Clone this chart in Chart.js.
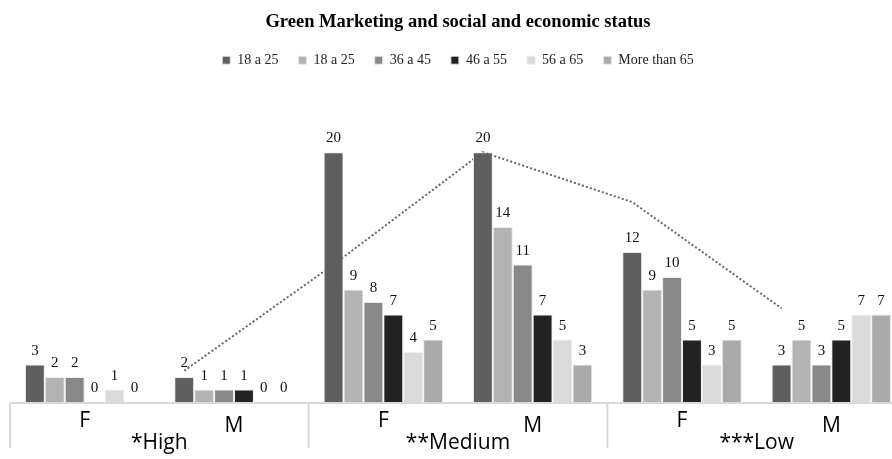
<!DOCTYPE html>
<html>
<head>
<meta charset="utf-8">
<script src="https://cdn.jsdelivr.net/npm/chart.js@4"></script>
<style>
  html, body { margin: 0; padding: 0; background: #fff; overflow: hidden; }
  #wrap { width: 918px; height: 459px; }
</style>
</head>
<body>
<div id="wrap"><canvas id="c" width="918" height="459"></canvas></div>
<script>
// Categories: gender within each socio-economic level
const genders = ['F', 'M', 'F', 'M', 'F', 'M'];
const levels = ['*High', '**Medium', '***Low'];

// Series labels (age brackets)
const seriesNames = ['18 a 25', '18 a 25', '36 a 45', '46 a 55', '56 a 65', 'More than 65'];

// Counts per age bracket, one value per category
const age1 = [3, 2, 20, 20, 12, 3];
const age2 = [2, 1, 9, 14, 9, 5];
const age3 = [2, 1, 8, 11, 10, 3];
const age4 = [0, 1, 7, 7, 5, 5];
const age5 = [1, 0, 4, 5, 3, 7];
const age6 = [0, 0, 5, 3, 5, 7];

// Two-period moving average trend of the first series (from category 2 on)
const movingAvg = [2.5, 11, 20, 16, 7.5];

const seriesColors = ['#5f5f5f', '#b3b3b3', '#888888', '#222222', '#dadada', '#aaaaaa'];
const allSeries = [age1, age2, age3, age4, age5, age6];

const serif = "'Liberation Serif', 'Times New Roman', serif";
const sans = "'Open Sans', 'Liberation Sans', sans-serif";

// Dotted moving-average line, drawn behind the bars
const trendPlugin = {
  id: 'trend',
  beforeDatasetsDraw(chart) {
    const meta = chart.getDatasetMeta(0);
    const y = chart.scales.y;
    const ctx = chart.ctx;
    ctx.save();
    ctx.strokeStyle = '#666666';
    ctx.lineWidth = 2;
    ctx.setLineDash([2, 2.2]);
    ctx.beginPath();
    movingAvg.forEach((v, k) => {
      const px = meta.data[k + 1].x;
      const py = y.getPixelForValue(v);
      if (k === 0) ctx.moveTo(px, py); else ctx.lineTo(px, py);
    });
    ctx.stroke();
    ctx.restore();
  }
};

// Value labels above every bar
const valueLabels = {
  id: 'valueLabels',
  afterDatasetsDraw(chart) {
    const ctx = chart.ctx;
    ctx.save();
    ctx.font = '15px ' + serif;
    ctx.fillStyle = '#111';
    ctx.textAlign = 'center';
    ctx.textBaseline = 'alphabetic';
    chart.data.datasets.forEach((ds, di) => {
      const meta = chart.getDatasetMeta(di);
      meta.data.forEach((bar, i) => {
        ctx.fillText(String(ds.data[i]), bar.x, bar.y - 10);
      });
    });
    ctx.restore();
  }
};

// Two-level category axis: gender labels plus level labels with dividers
const groupAxis = {
  id: 'groupAxis',
  afterDraw(chart) {
    const ctx = chart.ctx;
    const x = chart.scales.x;
    const area = chart.chartArea;
    const step = x.getPixelForValue(1) - x.getPixelForValue(0);
    const base = area.bottom;
    ctx.save();
    ctx.strokeStyle = '#d9d9d9';
    ctx.lineWidth = 2;
    ctx.beginPath();
    ctx.moveTo(area.left, base + 1);
    ctx.lineTo(area.right, base + 1);
    ctx.stroke();
    for (let g = 0; g <= levels.length; g++) {
      const px = x.getPixelForValue(g * 2) - step / 2;
      ctx.beginPath();
      ctx.moveTo(px, base + 1);
      ctx.lineTo(px, base + 46);
      ctx.stroke();
    }
    ctx.fillStyle = '#000';
    ctx.textAlign = 'center';
    ctx.textBaseline = 'middle';
    ctx.font = '21px ' + sans;
    genders.forEach((g, i) => {
      ctx.fillText(g, x.getPixelForValue(i), base + (g === 'F' ? 19 : 24));
    });
    levels.forEach((lv, g) => {
      const px = (x.getPixelForValue(2 * g) + x.getPixelForValue(2 * g + 1)) / 2;
      ctx.fillText(lv, px, base + 41);
    });
    ctx.restore();
  }
};

new Chart(document.getElementById('c'), {
  type: 'bar',
  data: {
    labels: genders,
    datasets: allSeries.map((vals, k) => ({
      label: seriesNames[k],
      data: vals,
      backgroundColor: seriesColors[k],
      borderColor: 'rgba(235,235,235,0.9)',
      borderWidth: 1,
      categoryPercentage: 0.8,
      barPercentage: 1.0
    }))
  },
  options: {
    responsive: false,
    animation: false,
    layout: { padding: { left: 10, right: 12, top: 0, bottom: 57 } },
    scales: {
      x: { display: false },
      y: { display: false, min: 0, max: 26 }
    },
    plugins: {
      tooltip: { enabled: false },
      title: {
        display: true,
        text: 'Green Marketing and social and economic status',
        font: { family: serif, size: 18.5, weight: 'bold' },
        color: '#000',
        padding: { top: 11, bottom: 0 }
      },
      legend: {
        display: true,
        labels: {
          font: { family: serif, size: 14 },
          color: '#222',
          boxWidth: 8,
          boxHeight: 8,
          padding: 20
        }
      }
    }
  },
  plugins: [trendPlugin, valueLabels, groupAxis]
});
</script>
</body>
</html>
